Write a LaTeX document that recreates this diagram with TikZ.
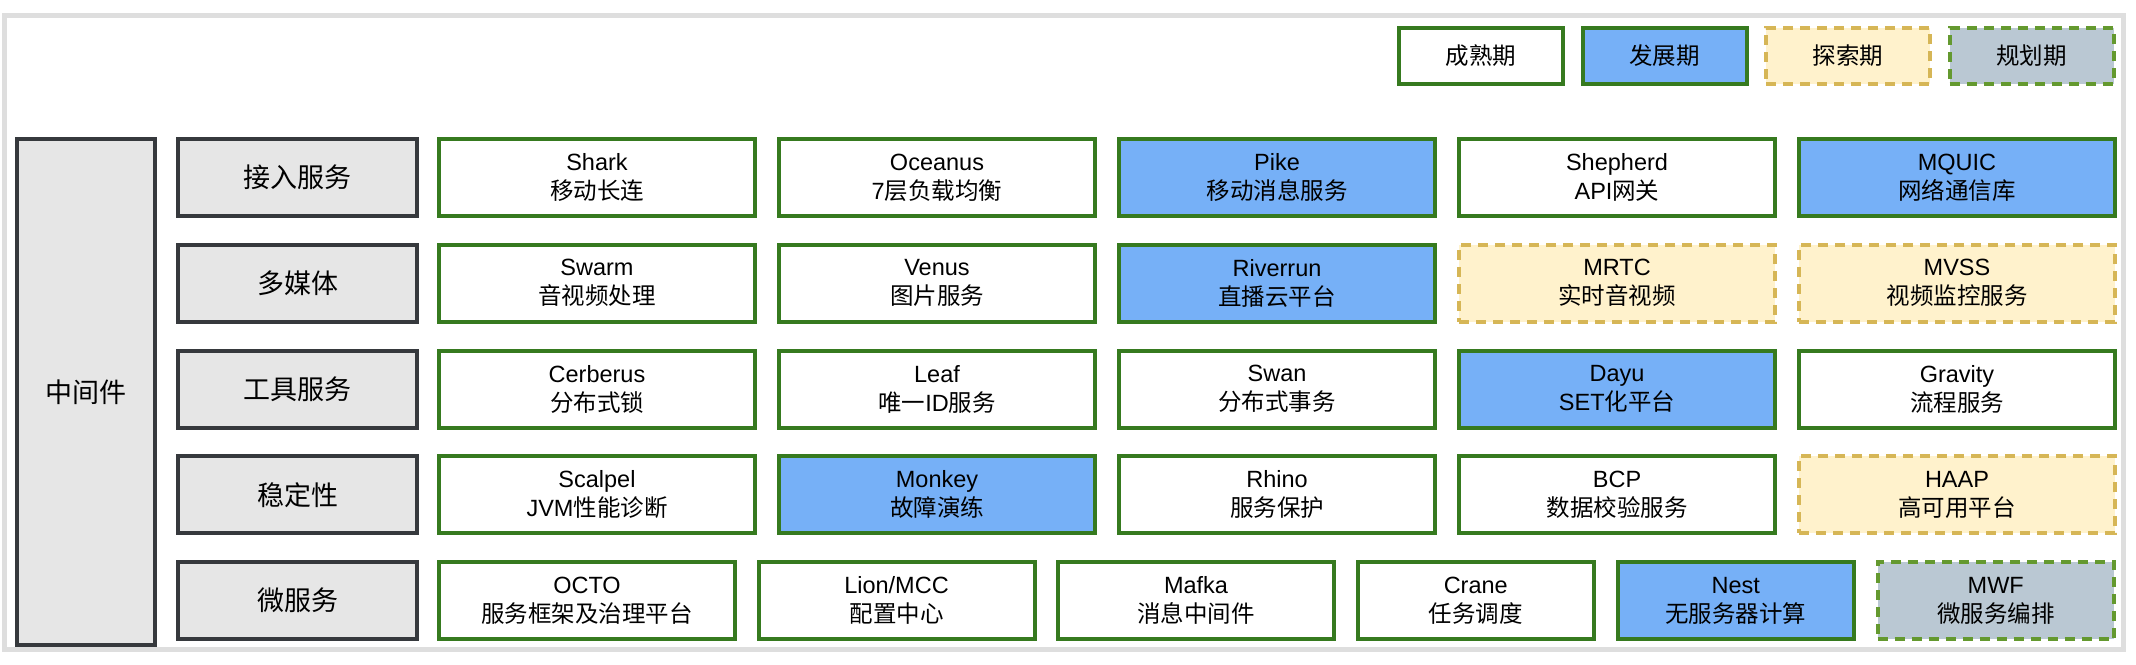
\documentclass[tikz,border=0pt]{standalone}
\usepackage{fontspec}
\setmainfont{Liberation Sans}
\newfontfamily\cjk{Noto Sans CJK SC}
\newcommand\zh[1]{{\cjk #1}}
\definecolor{matgreen}{HTML}{367A1F}
\definecolor{devblue}{HTML}{76B0F7}
\definecolor{expfill}{HTML}{FFF2CC}
\definecolor{expline}{HTML}{D6B656}
\definecolor{planfill}{HTML}{BAC8D3}
\definecolor{planline}{HTML}{64992F}
\definecolor{catfill}{HTML}{E6E6E6}
\definecolor{catline}{HTML}{36393D}
\definecolor{frameline}{HTML}{DEDEDE}
\tikzset{
  box/.style={rectangle, inner sep=0pt, align=center, line width=4pt,
    font=\fontsize{23.5}{29}\selectfont, text=black},
  mature/.style={box, draw=matgreen, fill=white},
  develop/.style={box, draw=matgreen, fill=devblue},
  explore/.style={box, draw=expline, fill=expfill, dash pattern=on 10pt off 7pt},
  plan/.style={box, draw=planline, fill=planfill, dash pattern=on 10pt off 7pt},
  catbox/.style={box, draw=catline, fill=catfill, font=\fontsize{27}{32}\selectfont,
    minimum width=239pt, minimum height=77pt},
  itemw/.style={minimum width=#1, minimum height=77pt},
  legendbox/.style={minimum width=164pt, minimum height=56pt}
}
\begin{document}
\begin{tikzpicture}[x=1pt,y=-1pt]
\useasboundingbox (0,0) rectangle (2136,664);
\fill[white] (0,0) rectangle (2136,664);
\draw[frameline, line width=5pt] (4.5,15.5) rectangle (2123.5,649.5);

% legend
\node[mature, legendbox] (lg1) at (1481,56) {\zh{成熟期}};
\node[develop, legendbox] (lg2) at (1664.5,56) {\zh{发展期}};
\node[explore, legendbox] (lg3) at (1848,56) {\zh{探索期}};
\node[plan, legendbox] (lg4) at (2031.5,56) {\zh{规划期}};

% left column
\node[catbox, minimum width=138pt, minimum height=506pt] (mid) at (86,392) {\zh{中间件}};

% categories
\node[catbox] (c1) at (297.5,177.5) {\zh{接入服务}};
\node[catbox] (c2) at (297.5,283.25) {\zh{多媒体}};
\node[catbox] (c3) at (297.5,389) {\zh{工具服务}};
\node[catbox] (c4) at (297.5,494.75) {\zh{稳定性}};
\node[catbox] (c5) at (297.5,600.5) {\zh{微服务}};

% row 1
\node[mature, itemw=316pt] (r1a) at (597,177.5) {Shark\\\zh{移动长连}};
\node[mature, itemw=316pt] (r1b) at (937,177.5) {Oceanus\\7\zh{层负载均衡}};
\node[develop, itemw=316pt] (r1c) at (1277,177.5) {Pike\\\zh{移动消息服务}};
\node[mature, itemw=316pt] (r1d) at (1617,177.5) {Shepherd\\API\zh{网关}};
\node[develop, itemw=316pt] (r1e) at (1957,177.5) {MQUIC\\\zh{网络通信库}};

% row 2
\node[mature, itemw=316pt] (r2a) at (597,283.25) {Swarm\\\zh{音视频处理}};
\node[mature, itemw=316pt] (r2b) at (937,283.25) {Venus\\\zh{图片服务}};
\node[develop, itemw=316pt] (r2c) at (1277,283.25) {Riverrun\\\zh{直播云平台}};
\node[explore, itemw=316pt] (r2d) at (1617,283.25) {MRTC\\\zh{实时音视频}};
\node[explore, itemw=316pt] (r2e) at (1957,283.25) {MVSS\\\zh{视频监控服务}};

% row 3
\node[mature, itemw=316pt] (r3a) at (597,389) {Cerberus\\\zh{分布式锁}};
\node[mature, itemw=316pt] (r3b) at (937,389) {Leaf\\\zh{唯一}ID\zh{服务}};
\node[mature, itemw=316pt] (r3c) at (1277,389) {Swan\\\zh{分布式事务}};
\node[develop, itemw=316pt] (r3d) at (1617,389) {Dayu\\SET\zh{化平台}};
\node[mature, itemw=316pt] (r3e) at (1957,389) {Gravity\\\zh{流程服务}};

% row 4
\node[mature, itemw=316pt] (r4a) at (597,494.75) {Scalpel\\JVM\zh{性能诊断}};
\node[develop, itemw=316pt] (r4b) at (937,494.75) {Monkey\\\zh{故障演练}};
\node[mature, itemw=316pt] (r4c) at (1277,494.75) {Rhino\\\zh{服务保护}};
\node[mature, itemw=316pt] (r4d) at (1617,494.75) {BCP\\\zh{数据校验服务}};
\node[explore, itemw=316pt] (r4e) at (1957,494.75) {HAAP\\\zh{高可用平台}};

% row 5
\node[mature, itemw=296pt] (r5a) at (587,600.5) {OCTO\\\zh{服务框架及治理平台}};
\node[mature, itemw=276pt] (r5b) at (896.5,600.5) {Lion/MCC\\\zh{配置中心}};
\node[mature, itemw=276pt] (r5c) at (1196,600.5) {Mafka\\\zh{消息中间件}};
\node[mature, itemw=236.5pt] (r5d) at (1475.75,600.5) {Crane\\\zh{任务调度}};
\node[develop, itemw=236.5pt] (r5e) at (1735.75,600.5) {Nest\\\zh{无服务器计算}};
\node[plan, itemw=236.5pt] (r5f) at (1995.75,600.5) {MWF\\\zh{微服务编排}};
\end{tikzpicture}
\end{document}
